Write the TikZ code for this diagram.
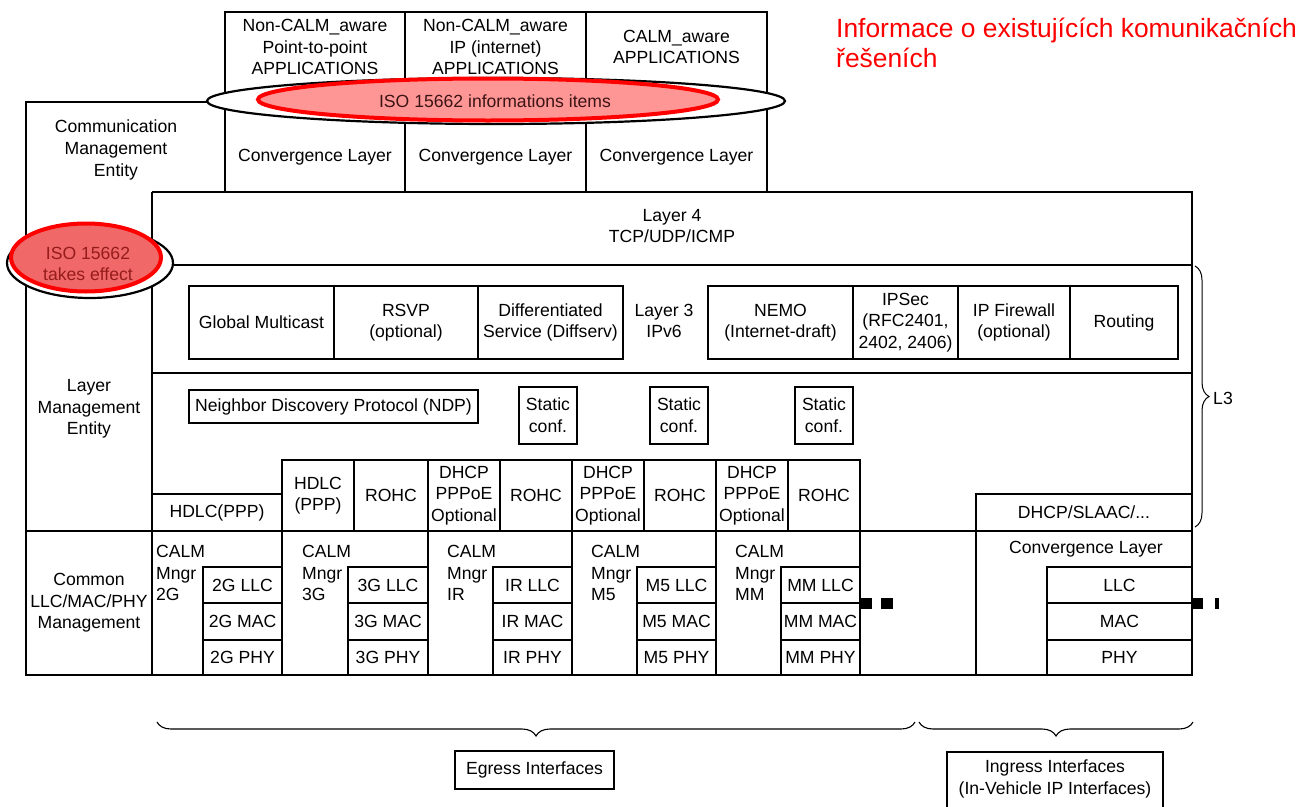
\documentclass[tikz,border=0pt]{standalone}
\usepackage{fontspec}
\setmainfont{Liberation Sans}
\usetikzlibrary{decorations.pathreplacing}
\definecolor{lred}{RGB}{255,150,150}
\definecolor{mred}{RGB}{240,104,104}
\definecolor{dred}{RGB}{150,28,28}
\definecolor{dtxt}{RGB}{60,20,20}
\begin{document}
\begin{tikzpicture}[x=1pt,y=-1pt,
  every node/.style={font=\fontsize{17.6}{21.6}\selectfont, inner sep=0pt, align=center},
  ln/.style={line width=1.3pt},
  bx/.style 2 args={draw, line width=1.3pt, minimum width=#1pt, minimum height=#2pt},
  mark/.style={fill=black}]
\useasboundingbox (0,0) rectangle (1314,806);

% ---- main outline
\draw[ln] (225,102) -- (26,102) -- (26,675) -- (1192,675) -- (1192,192) -- (152,192);
\draw[ln] (152,192) -- (152,675);
\draw[ln] (152,265) -- (1192,265);
\draw[ln] (152,373) -- (1192,373);
\draw[ln] (26,531) -- (1192,531);
\foreach \x in {282,428,572,716,860,976} \draw[ln] (\x,531) -- (\x,675);

% ---- applications and convergence layers
\node[bx={180}{89}] (app1) at (315,56.5) {};
\node[bx={181}{89}] (app2) at (495.5,56.5) {};
\node[bx={181}{89}] (app3) at (676.5,56.5) {};
\node[bx={180}{91}] (cl1) at (315,146.5) {};
\node[bx={181}{91}] (cl2) at (495.5,146.5) {};
\node[bx={181}{91}] (cl3) at (676.5,146.5) {};
\node (app1t) at (315,47) {Non-CALM\_aware\\Point-to-point\\APPLICATIONS};
\node (app2t) at (495.5,47) {Non-CALM\_aware\\IP (internet)\\APPLICATIONS};
\node (app3t) at (676.5,47) {CALM\_aware\\APPLICATIONS};
\node (cl1t) at (315,157) {Convergence Layer};
\node (cl2t) at (495.5,157) {Convergence Layer};
\node (cl3t) at (676.5,157) {Convergence Layer};

% ---- left column
\node (cme) at (116,150) {Communication\\Management\\Entity};
\node (lme) at (89,409) {Layer\\Management\\Entity};
\node (cmn) at (89,603) {Common\\LLC/MAC/PHY\\Management};

% ---- layer 4
\node (l4) at (672,226) {Layer 4\\TCP/UDP/ICMP};

% ---- layer 3
\node[bx={145}{73}] (gm) at (261.5,322.5) {Global Multicast};
\node[bx={144}{73}] (rsvp) at (406,322.5) {RSVP\\(optional)};
\node[bx={145}{73}] (diff) at (550.5,322.5) {Differentiated\\Service (Diffserv)};
\node (l3) at (664,321) {Layer 3\\IPv6};
\node[bx={145}{73}] (nemo) at (780.5,322.5) {NEMO\\(Internet-draft)};
\node[bx={105}{73}] (ipsec) at (905.5,322.5) {IPSec\\(RFC2401,\\2402, 2406)};
\node[bx={112}{73}] (fw) at (1014,322.5) {IP Firewall\\(optional)};
\node[bx={108}{73}] (rout) at (1124,322.5) {Routing};

% ---- layer 2 area
\node[bx={289}{33}] (ndp) at (333.5,406.5) {Neighbor Discovery Protocol (NDP)};
\node[bx={58}{57}] (st1) at (548,415.5) {Static\\conf.};
\node[bx={58}{57}] (st2) at (679,415.5) {Static\\conf.};
\node[bx={58}{57}] (st3) at (824,415.5) {Static\\conf.};

\node[bx={130}{37}] (hd1) at (217,512.5) {HDLC(PPP)};
\node[bx={72}{71}] (hd2) at (318,495.5) {HDLC\\(PPP)};
\node[bx={74}{71}] (ro1) at (391,495.5) {ROHC};
\node[bx={72}{71}] (dh1) at (464,495.5) {DHCP\\PPPoE\\Optional};
\node[bx={72}{71}] (ro2) at (536,495.5) {ROHC};
\node[bx={72}{71}] (dh2) at (608,495.5) {DHCP\\PPPoE\\Optional};
\node[bx={72}{71}] (ro3) at (680,495.5) {ROHC};
\node[bx={72}{71}] (dh3) at (752,495.5) {DHCP\\PPPoE\\Optional};
\node[bx={72}{71}] (ro4) at (824,495.5) {ROHC};
\node[bx={216}{37}] (slaac) at (1084,512.5) {DHCP/SLAAC/...};

% ---- interfaces
\node[anchor=west, align=left] (m2g) at (156,573) {CALM\\Mngr\\2G};
\node[anchor=west, align=left] (m3g) at (302,573) {CALM\\Mngr\\3G};
\node[anchor=west, align=left] (mir) at (447,573) {CALM\\Mngr\\IR};
\node[anchor=west, align=left] (mm5) at (591,573) {CALM\\Mngr\\M5};
\node[anchor=west, align=left] (mmm) at (735,573) {CALM\\Mngr\\MM};

\node[bx={79}{36}] (llc2g) at (242.5,585) {2G LLC};
\node[bx={79}{37}] (mac2g) at (242.5,621.5) {2G MAC};
\node[bx={79}{35}] (phy2g) at (242.5,657.5) {2G PHY};
\node[bx={80}{36}] (llc3g) at (388,585) {3G LLC};
\node[bx={80}{37}] (mac3g) at (388,621.5) {3G MAC};
\node[bx={80}{35}] (phy3g) at (388,657.5) {3G PHY};
\node[bx={79}{36}] (llcir) at (532.5,585) {IR LLC};
\node[bx={79}{37}] (macir) at (532.5,621.5) {IR MAC};
\node[bx={79}{35}] (phyir) at (532.5,657.5) {IR PHY};
\node[bx={79}{36}] (llc5) at (676.5,585) {M5 LLC};
\node[bx={79}{37}] (mac5) at (676.5,621.5) {M5 MAC};
\node[bx={79}{35}] (phy5) at (676.5,657.5) {M5 PHY};
\node[bx={79}{36}] (llcmm) at (820.5,585) {MM LLC};
\node[bx={79}{37}] (macmm) at (820.5,621.5) {MM MAC};
\node[bx={79}{35}] (phymm) at (820.5,657.5) {MM PHY};

\node (icl) at (1086,549) {Convergence Layer};
\node[bx={145}{36}] (llci) at (1119.5,585) {LLC};
\node[bx={145}{37}] (maci) at (1119.5,621.5) {MAC};
\node[bx={145}{35}] (phyi) at (1119.5,657.5) {PHY};

% small marks
\fill (860,598) rectangle (872,609);
\fill (881,598) rectangle (893,609);
\fill (1192,598) rectangle (1203,609);
\fill (1215,598) rectangle (1219,609);

% ---- braces
\draw[line width=1pt, decorate, decoration={brace, amplitude=14pt}] (1195,266) -- (1195,527);
\node[anchor=west] (l3b) at (1213,398) {L3};
\draw[line width=1.1pt, decorate, decoration={brace, mirror, amplitude=14pt}] (157,722) -- (915,722);
\draw[line width=1.1pt, decorate, decoration={brace, mirror, amplitude=14pt}] (919,722) -- (1193,722);
\node[bx={159}{38}] (egr) at (534.5,770) {Egress Interfaces};
\draw[ln] (947,830) -- (947,752) -- (1163,752) -- (1163,830);
\node (ingt) at (1055,779) {Ingress Interfaces\\(In-Vehicle IP Interfaces)};

% ---- ellipses
\draw[line width=2.2pt, fill=white] (496,101) ellipse [x radius=289pt, y radius=23pt];
\draw[red, line width=4pt, fill=lred] (488,99.5) ellipse [x radius=230pt, y radius=21pt];
\node[text=dtxt] (isoinfo) at (495,101) {ISO 15662 informations items};
\draw[line width=2.2pt, fill=white] (90,263) ellipse [x radius=83pt, y radius=35pt];
\draw[red, line width=4pt, fill=mred] (86,257.5) ellipse [x radius=75pt, y radius=34pt];
\node[text=dred] (isoeff) at (88,264) {ISO 15662\\takes effect};

% ---- title
\node[anchor=west, align=left, text=red, font=\fontsize{26.4}{29.5}\selectfont] (title) at (836,43) {Informace o existujících komunikačních\\řešeních};
\end{tikzpicture}
\end{document}
